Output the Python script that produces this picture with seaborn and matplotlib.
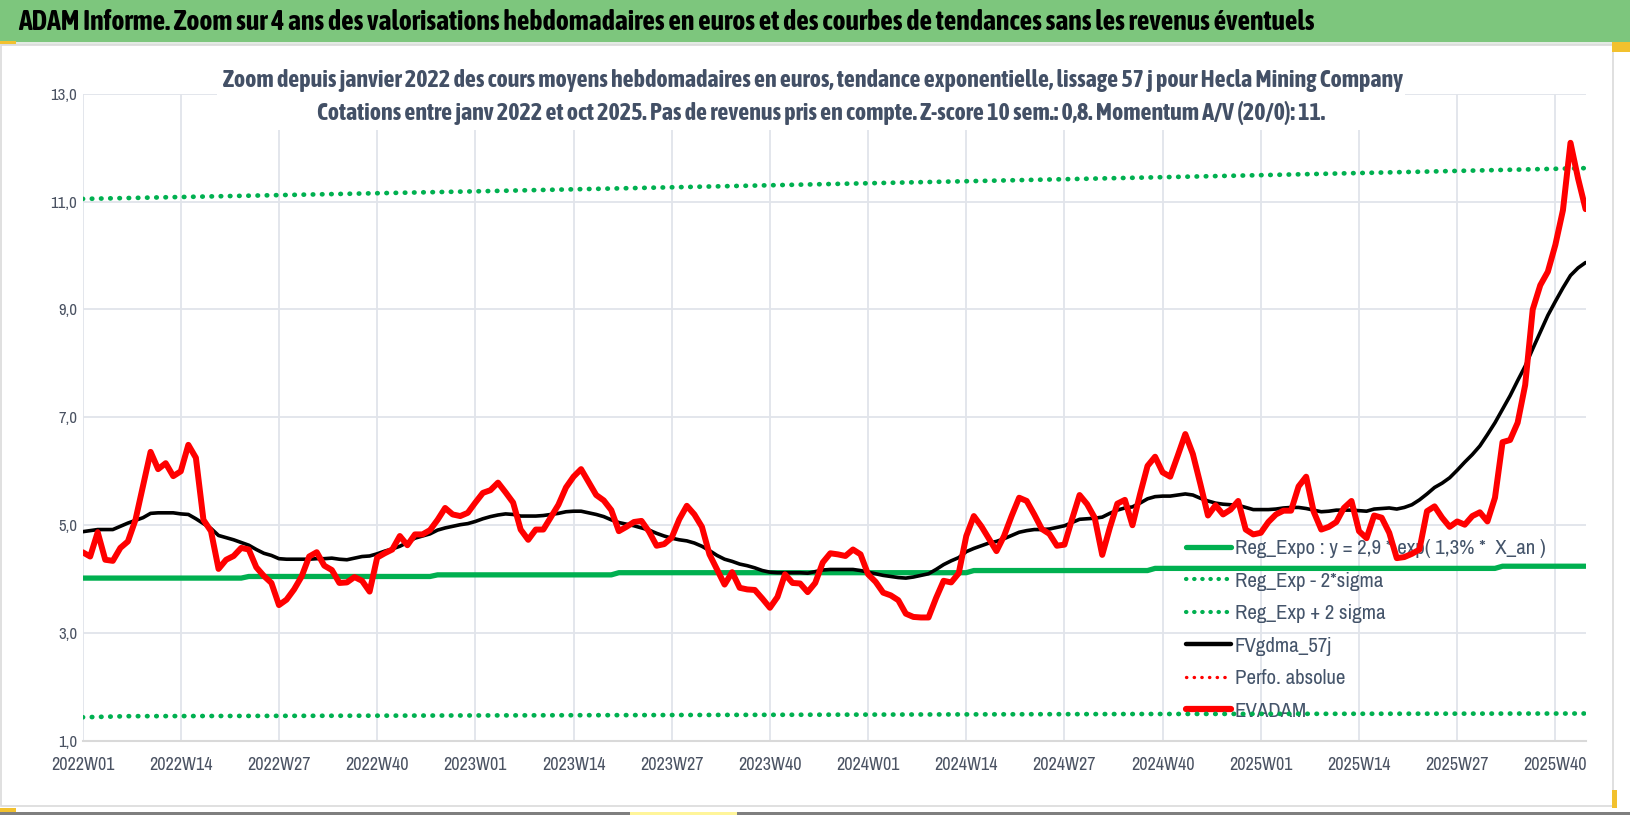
import matplotlib
matplotlib.use("Agg")
import matplotlib.pyplot as plt
from matplotlib import font_manager
from matplotlib.lines import Line2D
from matplotlib.patches import Rectangle
import pandas as pd
import seaborn as sns

# cours moyens hebdomadaires (EVADAM), 2022W01 -> 2025W44
evadam = [4.50, 4.42, 4.87, 4.36, 4.34, 4.58, 4.70, 5.10, 5.73, 6.36,
          6.04, 6.15, 5.91, 6.00, 6.49, 6.25, 5.10, 4.89, 4.19, 4.36,
          4.43, 4.58, 4.55, 4.22, 4.06, 3.93, 3.52, 3.62, 3.81, 4.05,
          4.42, 4.50, 4.25, 4.17, 3.93, 3.94, 4.04, 3.97, 3.77, 4.40,
          4.48, 4.55, 4.80, 4.63, 4.83, 4.83, 4.91, 5.10, 5.32, 5.20,
          5.17, 5.23, 5.42, 5.60, 5.65, 5.79, 5.61, 5.42, 4.92, 4.73,
          4.92, 4.92, 5.15, 5.38, 5.70, 5.90, 6.04, 5.80, 5.56, 5.46,
          5.28, 4.89, 4.97, 5.06, 5.08, 4.88, 4.62, 4.65, 4.77, 5.11,
          5.36, 5.20, 4.97, 4.46, 4.18, 3.90, 4.13, 3.84, 3.81, 3.80,
          3.64, 3.47, 3.67, 4.09, 3.93, 3.92, 3.76, 3.93, 4.31, 4.48,
          4.46, 4.43, 4.55, 4.46, 4.09, 3.95, 3.75, 3.70, 3.61, 3.36,
          3.30, 3.29, 3.29, 3.65, 3.97, 3.94, 4.11, 4.80, 5.17, 4.98,
          4.75, 4.52, 4.80, 5.17, 5.51, 5.45, 5.20, 4.93, 4.84, 4.62,
          4.64, 5.11, 5.56, 5.39, 5.14, 4.45, 4.95, 5.40, 5.47, 5.00,
          5.57, 6.10, 6.27, 5.98, 5.90, 6.29, 6.69, 6.32, 5.76, 5.18,
          5.37, 5.20, 5.29, 5.45, 4.92, 4.83, 4.86, 5.06, 5.20, 5.27,
          5.27, 5.72, 5.90, 5.25, 4.92, 4.97, 5.06, 5.32, 5.45, 4.89,
          4.76, 5.18, 5.14, 4.86, 4.39, 4.41, 4.47, 4.55, 5.26, 5.35,
          5.14, 4.97, 5.07, 5.01, 5.17, 5.24, 5.07, 5.51, 6.54, 6.58,
          6.90, 7.60, 9.00, 9.45, 9.70, 10.20, 10.84, 12.09, 11.43, 10.86]

# moyenne mobile FVgdma_57j
fvgdma = [4.88, 4.90, 4.92, 4.92, 4.92, 4.98, 5.04, 5.09, 5.14, 5.22,
          5.23, 5.23, 5.23, 5.21, 5.20, 5.12, 5.03, 4.94, 4.81, 4.77,
          4.73, 4.68, 4.63, 4.55, 4.48, 4.44, 4.38, 4.37, 4.37, 4.37,
          4.37, 4.38, 4.38, 4.39, 4.37, 4.36, 4.39, 4.42, 4.43, 4.47,
          4.52, 4.56, 4.61, 4.68, 4.76, 4.80, 4.84, 4.91, 4.95, 4.98,
          5.01, 5.03, 5.07, 5.12, 5.16, 5.19, 5.21, 5.20, 5.17, 5.17,
          5.17, 5.18, 5.20, 5.22, 5.25, 5.26, 5.26, 5.23, 5.20, 5.16,
          5.10, 5.05, 5.02, 4.99, 4.95, 4.91, 4.85, 4.80, 4.76, 4.73,
          4.71, 4.67, 4.61, 4.53, 4.44, 4.37, 4.33, 4.28, 4.25, 4.21,
          4.16, 4.13, 4.12, 4.12, 4.12, 4.12, 4.11, 4.14, 4.17, 4.18,
          4.18, 4.18, 4.18, 4.16, 4.13, 4.10, 4.07, 4.05, 4.03, 4.02,
          4.04, 4.07, 4.10, 4.18, 4.27, 4.34, 4.40, 4.51, 4.57, 4.62,
          4.67, 4.70, 4.75, 4.81, 4.87, 4.90, 4.92, 4.92, 4.93, 4.96,
          4.99, 5.05, 5.11, 5.12, 5.13, 5.15, 5.22, 5.28, 5.32, 5.34,
          5.41, 5.49, 5.53, 5.54, 5.54, 5.56, 5.58, 5.56, 5.50, 5.45,
          5.41, 5.39, 5.38, 5.37, 5.33, 5.29, 5.29, 5.29, 5.30, 5.32,
          5.33, 5.33, 5.31, 5.28, 5.25, 5.26, 5.28, 5.28, 5.28, 5.27,
          5.26, 5.30, 5.31, 5.32, 5.30, 5.33, 5.38, 5.47, 5.58, 5.70,
          5.78, 5.88, 6.02, 6.17, 6.31, 6.47, 6.68, 6.90, 7.15, 7.40,
          7.68, 7.95, 8.27, 8.58, 8.89, 9.15, 9.40, 9.63, 9.77, 9.87]

# regression exponentielle (paliers)
reg_x = [0, 21, 22, 46, 47, 70, 71, 117, 118, 141, 142, 187, 188, 199]
reg_y = [4.02, 4.02, 4.05, 4.05, 4.08, 4.08, 4.12, 4.12, 4.16, 4.16,
         4.20, 4.20, 4.24, 4.24]

# bandes +/- 2 sigma
hi_x = [0, 52, 104, 156, 199]
hi_y = [11.05, 11.19, 11.34, 11.49, 11.62]
lo_x = [0, 6, 73, 138, 199]
lo_y = [1.44, 1.46, 1.48, 1.50, 1.51]

# etiquettes des semaines
weeks = []
for year in [2022, 2023, 2024, 2025]:
    for w in range(1, 53):
        weeks.append(f"{year}W{w:02d}")
weeks = weeks[:len(evadam)]

sns.set_style("white")


def wnum(w):
    if isinstance(w, str):
        return font_manager.weight_dict.get(w, 400)
    return w


# police etroite si disponible (le modele est en Calibri)
weights = {}
for f in font_manager.fontManager.ttflist:
    weights.setdefault(f.name, set()).add(wnum(f.weight))
narrow = [n for n in weights if "Narrow" in n or "Condensed" in n]
regular = [n for n in narrow if any(350 <= w <= 450 for w in weights[n])]
boldies = [n for n in narrow if any(w >= 650 for w in weights[n])]
fam = (regular or narrow or ["Lato"])[0]
bfam = (boldies or [fam])[0]
plt.rcParams["font.family"] = [fam, "Liberation Sans", "DejaVu Sans"]

W, H = 1630, 815
fig = plt.figure(figsize=(W / 100, H / 100), dpi=100)
fig.patch.set_facecolor("white")

x0, x1, ytop, ybot = 82.6, 1585.6, 93.7, 741.0
ax = fig.add_axes([x0 / W, 1 - ybot / H, (x1 - x0) / W, (ybot - ytop) / H])

df = pd.DataFrame({"semaine": range(len(evadam)), "EVADAM": evadam,
                   "FVgdma_57j": fvgdma})
reg = pd.DataFrame({"x": reg_x, "y": reg_y})
hi = pd.DataFrame({"x": hi_x, "y": hi_y})
lo = pd.DataFrame({"x": lo_x, "y": lo_y})

green = "#00B050"
dots = (0, (0.1, 1.85))
sns.lineplot(data=reg, x="x", y="y", color=green, lw=3.8, ax=ax, zorder=3)
sns.lineplot(data=lo, x="x", y="y", color=green, lw=3.4, ax=ax, zorder=3,
             linestyle=dots, dash_capstyle="round")
sns.lineplot(data=hi, x="x", y="y", color=green, lw=3.4, ax=ax, zorder=3,
             linestyle=dots, dash_capstyle="round")
sns.lineplot(data=df, x="semaine", y="FVgdma_57j", color="black", lw=2.6,
             ax=ax, zorder=4)
sns.lineplot(data=df, x="semaine", y="EVADAM", color="#FF0000", lw=4.3,
             ax=ax, zorder=5)

ax.set_xlim(0, len(evadam) - 1)
ax.set_ylim(1, 13)
ax.set_xlabel("")
ax.set_ylabel("")
tick_pos = list(range(0, len(evadam), 13))
ax.set_xticks(tick_pos)
ax.set_xticklabels([weeks[i] for i in tick_pos])
yt = [1, 3, 5, 7, 9, 11, 13]
ax.set_yticks(yt)
ax.set_yticklabels([f"{v:.1f}".replace(".", ",") for v in yt])

gcol = "#E1E4EA"
ax.set_axisbelow(True)
ax.grid(True, color=gcol, lw=1.3)
for s in ["top", "right", "left"]:
    ax.spines[s].set_visible(False)
ax.spines["bottom"].set_color("#D9D9D9")
ax.spines["bottom"].set_linewidth(1.5)
tcol = "#4a5262"
ax.tick_params(axis="x", length=4.5, width=1.2, color=gcol, pad=7,
               labelsize=13, labelcolor=tcol)
ax.tick_params(axis="y", length=0, pad=4, labelsize=12, labelcolor=tcol)

# legende
h_reg = Line2D([], [], color=green, lw=3.8)
h_lo = Line2D([], [], color=green, lw=3.0, linestyle=dots, dash_capstyle="round")
h_hi = Line2D([], [], color=green, lw=3.0, linestyle=dots, dash_capstyle="round")
h_fv = Line2D([], [], color="black", lw=3.2)
h_perf = Line2D([], [], color="#FF0000", lw=2.4, linestyle=(0, (0.1, 2.2)),
                dash_capstyle="round")
h_ev = Line2D([], [], color="#FF0000", lw=4.5)
labels = ["Reg_Expo : y = 2,9 * exp( 1,3% *  X_an )", "Reg_Exp - 2*sigma",
          "Reg_Exp + 2 sigma", "FVgdma_57j", "Perfo. absolue", "EVADAM"]
leg = ax.legend([h_reg, h_lo, h_hi, h_fv, h_perf, h_ev], labels,
                loc="upper left", bbox_to_anchor=(1186 / W, 1 - 539 / H),
                bbox_transform=fig.transFigure, frameon=False, fontsize=15,
                handlelength=2.15, handletextpad=0.2, labelspacing=0.65,
                borderpad=0, borderaxespad=0)
for t in leg.get_texts():
    t.set_color("#44546A")
leg.set_zorder(1)

# bandeau vert
fig.patches.append(Rectangle((0, 1 - 42 / H), 1, 42 / H, transform=fig.transFigure,
                             facecolor="#7DC67D", edgecolor="none", zorder=1))
fig.patches.append(Rectangle((0, 1 - 45 / H), 1, 3 / H, transform=fig.transFigure,
                             facecolor="#E3EBE4", edgecolor="none", zorder=1))
# cadre
fig.patches.append(Rectangle((1 / W, 1 - 806 / H), 1612 / W, 761 / H,
                             transform=fig.transFigure, facecolor="none",
                             edgecolor="#DADADA", lw=1.2, zorder=1))
fig.patches.append(Rectangle((0, 0), 1, 3 / H, transform=fig.transFigure,
                             facecolor="#7F7F7F", edgecolor="none", zorder=1))
for (rx, ry, rw, rh, c) in [(0, 41, 16, 3, "#F2C12E"), (0, 808, 16, 4, "#F2C12E"),
                            (1612, 790, 5, 18, "#F2C12E"), (1612, 42, 18, 10, "#F2C12E"),
                            (630, 812, 107, 3, "#FFF59A")]:
    fig.patches.append(Rectangle((rx / W, 1 - (ry + rh) / H), rw / W, rh / H,
                                 transform=fig.transFigure, facecolor=c,
                                 edgecolor="none", zorder=1))
# fond blanc sous le titre
fig.patches.append(Rectangle((217 / W, 1 - 130 / H), (1405 - 217) / W, 68 / H,
                             transform=fig.transFigure, facecolor="white",
                             edgecolor="none", zorder=1))

tfam = [bfam, "Liberation Sans", "DejaVu Sans"]
head = fig.text(18 / W, 1 - 22 / H,
                "ADAM Informe. Zoom sur 4 ans des valorisations hebdomadaires en euros "
                "et des courbes de tendances sans les revenus éventuels",
                ha="left", va="center", fontsize=16, fontweight="bold", color="black",
                family=tfam)
sub1 = fig.text(813 / W, 1 - 80 / H,
                "Zoom depuis janvier 2022 des cours moyens hebdomadaires en euros, "
                "tendance exponentielle, lissage 57 j pour Hecla Mining Company",
                ha="center", va="center", fontsize=14, fontweight="bold", color="#435066",
                family=tfam)
sub2 = fig.text(821 / W, 1 - 113 / H,
                "Cotations entre janv 2022 et oct 2025. Pas de revenus pris en compte. "
                "Z-score 10 sem.: 0,8. Momentum A/V (20/0): 11.",
                ha="center", va="center", fontsize=14, fontweight="bold", color="#435066",
                family=tfam)

fig.canvas.draw()
r = fig.canvas.get_renderer()
for t, target in [(head, 1305), (sub1, 1176)]:
    w = t.get_window_extent(renderer=r).width
    t.set_fontsize(t.get_fontsize() * target / w)
sub2.set_fontsize(sub1.get_fontsize())

fig.savefig("out.png", dpi=100)
